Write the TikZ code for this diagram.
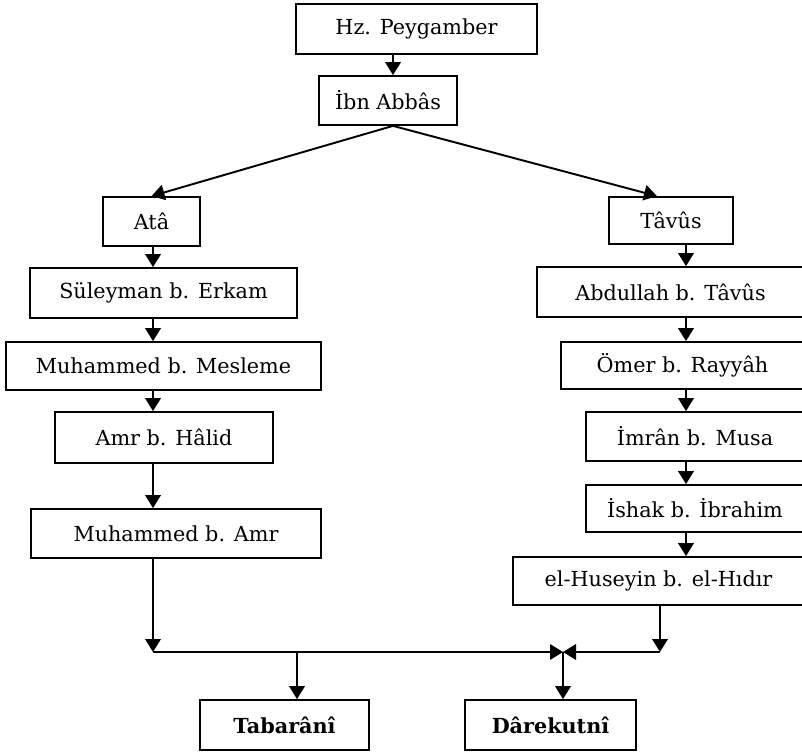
\documentclass[tikz,border=0pt]{standalone}
\usepackage{fontspec}
\setmainfont{DejaVu Serif}
\usetikzlibrary{arrows.meta, calc}

\tikzset{
  narrator/.style={draw, line width=1pt, inner sep=0pt, font=\fontsize{11.8}{14}\selectfont},
  source/.style={narrator, font=\fontsize{11.8}{14}\selectfont\bfseries},
  link/.style={line width=1.1pt, -{Triangle[length=2.6mm,width=3.1mm]}},
  plain/.style={line width=1.1pt}
}

\begin{document}
\begin{tikzpicture}[x=0.02cm, y=-0.02cm]
    \useasboundingbox (0,0) rectangle (802,753);

    % Top
    \node[narrator, minimum width=4.82cm, minimum height=1.0cm] (hz) at (416.5,29) {Hz. Peygamber};
    \node[narrator, minimum width=2.76cm, minimum height=0.98cm] (ibn) at (388,100.5) {İbn Abbâs};

    % Left chain
    \node[narrator, minimum width=1.94cm, minimum height=0.98cm] (ata) at (151.5,221.5) {Atâ};
    \node[narrator, minimum width=5.34cm, minimum height=1.0cm] (sul) at (163.5,293) {Süleyman b. Erkam};
    \node[narrator, minimum width=6.30cm, minimum height=0.96cm] (mes) at (163.5,366) {Muhammed b. Mesleme};
    \node[narrator, minimum width=4.36cm, minimum height=1.02cm] (amr) at (164,437.5) {Amr b. Hâlid};
    \node[narrator, minimum width=5.80cm, minimum height=0.98cm] (mamr) at (176,533.5) {Muhammed b. Amr};

    % Right chain
    \node[narrator, minimum width=2.48cm, minimum height=0.94cm] (tav) at (671,220.5) {Tâvûs};
    \node[narrator, minimum width=5.34cm, minimum height=1.0cm] (abd) at (670.5,292) {Abdullah b. Tâvûs};
    \node[narrator, minimum width=4.86cm, minimum height=0.94cm] (omr) at (682.5,365.5) {Ömer b. Rayyâh};
    \node[narrator, minimum width=4.36cm, minimum height=0.98cm] (imr) at (695,436.5) {İmrân b. Musa};
    \node[narrator, minimum width=4.36cm, minimum height=0.94cm] (ish) at (695,508.5) {İshak b. İbrahim};
    \node[narrator, minimum width=5.82cm, minimum height=0.96cm] (hus) at (658.5,581) {el-Huseyin b. el-Hıdır};

    % Sources
    \node[source, minimum width=3.38cm, minimum height=1.0cm] (tab) at (284.5,725) {Tabarânî};
    \node[source, minimum width=3.42cm, minimum height=1.0cm] (dar) at (550.5,725) {Dârekutnî};

    % Columns
    \coordinate (mcol) at (393,0);
    \coordinate (lcol) at (153,0);
    \coordinate (rcol) at (686,0);
    \coordinate (tvcol) at (657,0);
    \coordinate (hcol) at (660,0);
    \coordinate (tcol) at (297,0);
    \coordinate (join) at (563,652);

    \draw[link] (hz.south -| mcol) -- (ibn.north -| mcol);
    \draw[link] (ibn.south -| mcol) -- (ata.north);
    \draw[link] (ibn.south -| mcol) -- (tav.north -| tvcol);

    \draw[link] (ata.south -| lcol) -- (sul.north -| lcol);
    \draw[link] (sul.south -| lcol) -- (mes.north -| lcol);
    \draw[link] (mes.south -| lcol) -- (amr.north -| lcol);
    \draw[link] (amr.south -| lcol) -- (mamr.north -| lcol);

    \draw[link] (tav.south -| rcol) -- (abd.north -| rcol);
    \draw[link] (abd.south -| rcol) -- (omr.north -| rcol);
    \draw[link] (omr.south -| rcol) -- (imr.north -| rcol);
    \draw[link] (imr.south -| rcol) -- (ish.north -| rcol);
    \draw[link] (ish.south -| rcol) -- (hus.north -| rcol);

    % Join
    \draw[link] (mamr.south -| lcol) -- (lcol |- join);
    \draw[link] (lcol |- join) -- (join);
    \draw[link] (hus.south -| hcol) -- (hcol |- join);
    \draw[link] (hcol |- join) -- (join);
    \draw[link] (tcol |- join) -- (tab.north -| tcol);
    \draw[link] (join) -- (dar.north -| join);
\end{tikzpicture}
\end{document}
